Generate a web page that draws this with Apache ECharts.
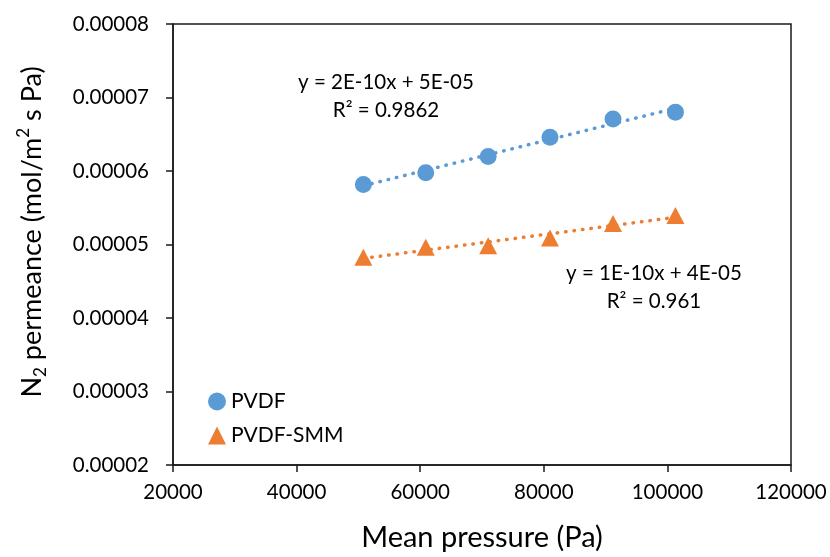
<!DOCTYPE html>
<html>
<head>
<meta charset="utf-8">
<script src="https://cdn.jsdelivr.net/npm/echarts@6/dist/echarts.min.js"></script>
<style>
html,body{margin:0;padding:0;background:#fff;}
#chart{width:830px;height:557px;}
</style>
</head>
<body>
<div id="chart"></div>
<script>
// ---- data ----
const seriesNames = ['PVDF', 'PVDF-SMM'];
const meanPressure = [50800, 60900, 71000, 81000, 91200, 101300];
const pvdf = [5.816e-5, 5.977e-5, 6.197e-5, 6.460e-5, 6.707e-5, 6.801e-5];
const pvdfSmm = [4.828e-5, 4.962e-5, 4.984e-5, 5.087e-5, 5.285e-5, 5.396e-5];
const eqPvdf = ['y = 2E-10x + 5E-05', 'R\u00B2 = 0.9862'];
const eqSmm = ['y = 1E-10x + 4E-05', 'R\u00B2 = 0.961'];
const xTicks = [20000, 40000, 60000, 80000, 100000, 120000];
const yTicks = [0.00002, 0.00003, 0.00004, 0.00005, 0.00006, 0.00007, 0.00008];
const xTitle = 'Mean pressure (Pa)';
const yTitle = '{a|N}{sub|2}{a| permeance (mol/m}{sup|2}{a| s Pa)}';

const BLUE = '#5B9BD5', ORANGE = '#ED7D31';
const FONT = 'Lato';

function fit(xs, ys) {
  const n = xs.length;
  const mx = xs.reduce((a, b) => a + b, 0) / n;
  const my = ys.reduce((a, b) => a + b, 0) / n;
  let sxy = 0, sxx = 0;
  for (let i = 0; i < n; i++) { sxy += (xs[i] - mx) * (ys[i] - my); sxx += (xs[i] - mx) ** 2; }
  const b = sxy / sxx, a = my - b * mx;
  const x0 = xs[0], x1 = xs[n - 1];
  return [[x0, a + b * x0], [x1, a + b * x1]];
}
const pairs = (xs, ys) => xs.map((x, i) => [x, ys[i]]);

const chart = echarts.init(document.getElementById('chart'), null, {renderer: 'canvas'});
const dotted = (c) => ({color: c, width: 3.5, type: [0.5, 8], cap: 'round', opacity: 1});

chart.setOption({
  animation: false,
  backgroundColor: '#fff',
  textStyle: {fontFamily: FONT},
  grid: {left: 173, right: 39, top: 24, bottom: 86, show: true, borderColor: '#1a1a1a', borderWidth: 1.5, containLabel: false},
  legend: {
    orient: 'vertical', left: 203, top: 386, itemGap: 13, itemWidth: 18, itemHeight: 18,
    textStyle: {fontFamily: FONT, fontSize: 21, color: '#000'},
    data: [{name: seriesNames[0], icon: 'circle'}, {name: seriesNames[1], icon: 'triangle'}]
  },
  xAxis: {
    type: 'value', min: xTicks[0], max: xTicks[xTicks.length - 1], interval: 20000,
    name: xTitle, nameLocation: 'middle', nameGap: 58,
    nameTextStyle: {fontFamily: FONT, fontSize: 29, color: '#000'},
    axisLine: {show: true, onZero: false, lineStyle: {color: '#1a1a1a', width: 1.5}},
    axisTick: {show: true, length: 7, inside: false, lineStyle: {color: '#1a1a1a', width: 1.5}},
    axisLabel: {fontFamily: FONT, fontSize: 20.5, color: '#000', margin: 17, formatter: v => String(v)},
    splitLine: {show: false}
  },
  yAxis: {
    type: 'value', min: yTicks[0], max: yTicks[yTicks.length - 1], interval: 0.00001,
    axisLine: {show: true, onZero: false, lineStyle: {color: '#1a1a1a', width: 1.5}},
    axisTick: {show: true, length: 7, inside: false, lineStyle: {color: '#1a1a1a', width: 1.5}},
    axisLabel: {fontFamily: FONT, fontSize: 20.5, color: '#000', margin: 24, formatter: v => v.toFixed(5)},
    splitLine: {show: false}
  },
  series: [
    {name: seriesNames[0] + ' trend', type: 'line', data: fit(meanPressure, pvdf), symbol: 'none', lineStyle: dotted(BLUE), z: 2, silent: true},
    {name: seriesNames[1] + ' trend', type: 'line', data: fit(meanPressure, pvdfSmm), symbol: 'none', lineStyle: dotted(ORANGE), z: 2, silent: true},
    {name: seriesNames[0], type: 'scatter', data: pairs(meanPressure, pvdf), symbol: 'circle', symbolSize: 17, itemStyle: {color: BLUE, opacity: 1}, z: 3},
    {name: seriesNames[1], type: 'scatter', data: pairs(meanPressure, pvdfSmm), symbol: 'triangle', symbolSize: [18, 17], itemStyle: {color: ORANGE, opacity: 1}, z: 3}
  ],
  graphic: [
    {type: 'text', x: 386, y: 96, style: {text: eqPvdf.join('\n'), fontFamily: FONT, fontSize: 20.5, fill: '#000', align: 'center', verticalAlign: 'middle', lineHeight: 28}},
    {type: 'text', x: 654, y: 287, style: {text: eqSmm.join('\n'), fontFamily: FONT, fontSize: 20.5, fill: '#000', align: 'center', verticalAlign: 'middle', lineHeight: 28}},
    {type: 'text', x: 32, y: 232, rotation: Math.PI / 2,
      style: {
        text: yTitle, align: 'center', verticalAlign: 'middle',
        rich: {
          a: {fontFamily: FONT, fontSize: 27, fill: '#000', lineHeight: 34, verticalAlign: 'middle'},
          sub: {fontFamily: FONT, fontSize: 17, fill: '#000', lineHeight: 34, verticalAlign: 'bottom'},
          sup: {fontFamily: FONT, fontSize: 17, fill: '#000', lineHeight: 34, verticalAlign: 'top'}
        }
      }}
  ]
});
</script>
</body>
</html>
